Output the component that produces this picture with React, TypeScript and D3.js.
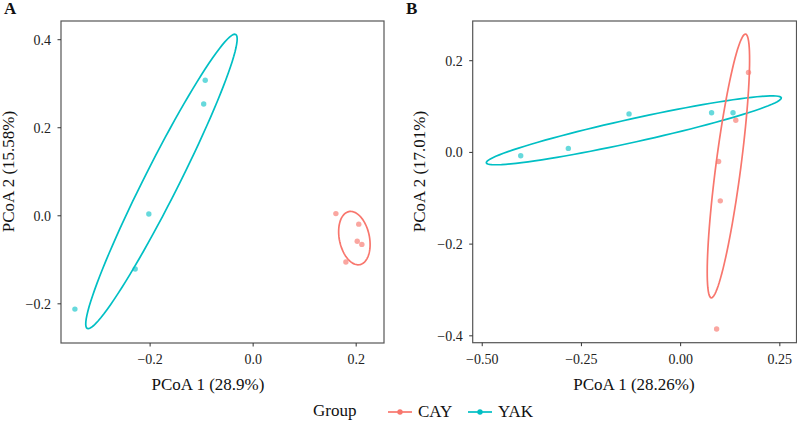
import React from 'react';
import * as d3 from 'd3';

type Pt = [number, number];
type Ellipse = {cx:number, cy:number, ax:number, ay:number, bx:number, by:number};

const width = 797;
const height = 422;
const fontFamily = '"Liberation Serif", "DejaVu Serif", serif';
const groups = ["CAY", "YAK"];
const colors: Record<string, string> = {CAY: "#F8766D", YAK: "#00BFC4"};

// panel A
const cayA: Pt[] = [[0.1606, 0.005], [0.205, -0.019], [0.202, -0.058], [0.211, -0.065], [0.18, -0.105]];
const yakA: Pt[] = [[-0.093, 0.308], [-0.096, 0.254], [-0.2025, 0.004], [-0.229, -0.121], [-0.346, -0.212]];
const ellCayA: Ellipse = {cx: 0.1965, cy: -0.0507, ax: 0.0107, ay: -0.0602, bx: 0.0286, by: 0.00695};
const ellYakA: Ellipse = {cx: -0.178, cy: 0.078, ax: 0.144, ay: 0.334, bx: 0.0295, by: -0.0174};
const xTicksA = [-0.2, 0, 0.2];
const yTicksA = [-0.2, 0, 0.2, 0.4];

// panel B
const cayB: Pt[] = [[0.171, 0.1745], [0.139, 0.070], [0.0957, -0.0197], [0.100, -0.1056], [0.0907, -0.385]];
const yakB: Pt[] = [[-0.403, -0.0074], [-0.283, 0.0087], [-0.130, 0.084], [0.078, 0.0865], [0.132, 0.0865]];
const ellCayB: Ellipse = {cx: 0.1204, cy: -0.0295, ax: 0.0433, ay: 0.2876, bx: 0.03124, by: -0.00351};
const ellYakB: Ellipse = {cx: -0.118, cy: 0.0482, ax: 0.3716, ay: 0.0709, bx: 0.00635, by: -0.0249};
const xTicksB = [-0.5, -0.25, 0, 0.25];
const yTicksB = [-0.4, -0.2, 0, 0.2];

type PanelProps = {
  letter: string,
  x0: number, x1: number, y0: number, y1: number,
  xDomain: [number, number], yDomain: [number, number],
  xTicks: number[], yTicks: number[],
  xFmt: (n:number)=>string, yFmt: (n:number)=>string,
  xLabel: string, yLabel: string,
  xLabelX: number, yLabelX: number, yLabelY: number,
  cay: Pt[], yak: Pt[], ellCay: Ellipse, ellYak: Ellipse,
}

const ellipsePath = (e: Ellipse, xs: d3.ScaleLinear<number, number>, ys: d3.ScaleLinear<number, number>) => {
  const pts: Pt[] = d3.range(0, 100).map(i => {
    const t = i / 100 * 2 * Math.PI;
    return [e.cx + Math.cos(t) * e.ax + Math.sin(t) * e.bx, e.cy + Math.cos(t) * e.ay + Math.sin(t) * e.by];
  });
  return d3.line<Pt>().x(d => xs(d[0])).y(d => ys(d[1])).curve(d3.curveLinearClosed)(pts) || "";
}

const Panel = (p: PanelProps) => {
  const xs = d3.scaleLinear().domain(p.xDomain).range([p.x0, p.x1]);
  const ys = d3.scaleLinear().domain(p.yDomain).range([p.y1, p.y0]);
  const axisColor = "#555";
  return (
    <g fontFamily={fontFamily}>
      <text x={p.letter === "A" ? 4 : 406} y={14} fontSize={17} fontWeight="bold" fill="#111">{p.letter}</text>
      <path d={ellipsePath(p.ellYak, xs, ys)} fill="none" stroke={colors.YAK} strokeWidth={1.7}/>
      <path d={ellipsePath(p.ellCay, xs, ys)} fill="none" stroke={colors.CAY} strokeWidth={1.7}/>
      {p.cay.map((d, i) => <circle key={"c"+i} cx={xs(d[0])} cy={ys(d[1])} r={2.7} fill={colors.CAY} fillOpacity={0.65}/>)}
      {p.yak.map((d, i) => <circle key={"y"+i} cx={xs(d[0])} cy={ys(d[1])} r={2.7} fill={colors.YAK} fillOpacity={0.6}/>)}
      <rect x={p.x0} y={p.y0} width={p.x1 - p.x0} height={p.y1 - p.y0} fill="none" stroke={axisColor} strokeWidth={1.2}/>
      {p.xTicks.map(v => (
        <g key={"xt"+v} transform={`translate(${xs(v)}, ${p.y1})`}>
          <line y2={3.5} stroke="#333" strokeWidth={1}/>
          <text y={21} textAnchor="middle" fontSize={14} fill="#222">{p.xFmt(v)}</text>
        </g>
      ))}
      {p.yTicks.map(v => (
        <g key={"yt"+v} transform={`translate(${p.x0}, ${ys(v)})`}>
          <line x2={-3.5} stroke="#333" strokeWidth={1}/>
          <text x={-10} y={5} textAnchor="end" fontSize={14} fill="#222">{p.yFmt(v)}</text>
        </g>
      ))}
      <text x={p.xLabelX} y={390} textAnchor="middle" fontSize={17} fill="#111">{p.xLabel}</text>
      <text transform={`translate(${p.yLabelX}, ${p.yLabelY}) rotate(-90)`} textAnchor="middle" fontSize={17} fill="#111">{p.yLabel}</text>
    </g>
  )
}

const Legend = () => {
  const keyX = [388, 468];
  return (
    <g fontFamily={fontFamily} fontSize={17} fill="#111">
      <text x={313} y={416}>Group</text>
      {groups.map((g, i) => (
        <g key={g} transform={`translate(${keyX[i]}, 412)`}>
          <line x1={0} x2={24} stroke={colors[g]} strokeWidth={1.7}/>
          <circle cx={12} r={2.7} fill={colors[g]}/>
          <text x={30} y={4.5}>{g}</text>
        </g>
      ))}
    </g>
  )
}

const App = () => {
  const f1 = d3.format(".1f");
  const f2 = d3.format(".2f");
  return (
    <div style={{position: "absolute", left: 0, top: 0}}>
      <svg width={width} height={height} style={{display: "block", background: "white"}}>
        <Panel letter="A" x0={61} x1={384} y0={21} y1={343}
          xDomain={[-0.373, 0.254]} yDomain={[-0.289, 0.4425]}
          xTicks={xTicksA} yTicks={yTicksA} xFmt={f1} yFmt={f1}
          xLabel="PCoA 1 (28.9%)" yLabel="PCoA 2 (15.58%)"
          xLabelX={208} yLabelX={14} yLabelY={171.5}
          cay={cayA} yak={yakA} ellCay={ellCayA} ellYak={ellYakA}/>
        <Panel letter="B" x0={472.7} x1={796.5} y0={21} y1={342.7}
          xDomain={[-0.524, 0.292]} yDomain={[-0.415, 0.2866]}
          xTicks={xTicksB} yTicks={yTicksB} xFmt={f2} yFmt={f1}
          xLabel="PCoA 1 (28.26%)" yLabel="PCoA 2 (17.01%)"
          xLabelX={634} yLabelX={425} yLabelY={171.5}
          cay={cayB} yak={yakB} ellCay={ellCayB} ellYak={ellYakB}/>
        <Legend/>
      </svg>
    </div>
  )
}

export default App;
